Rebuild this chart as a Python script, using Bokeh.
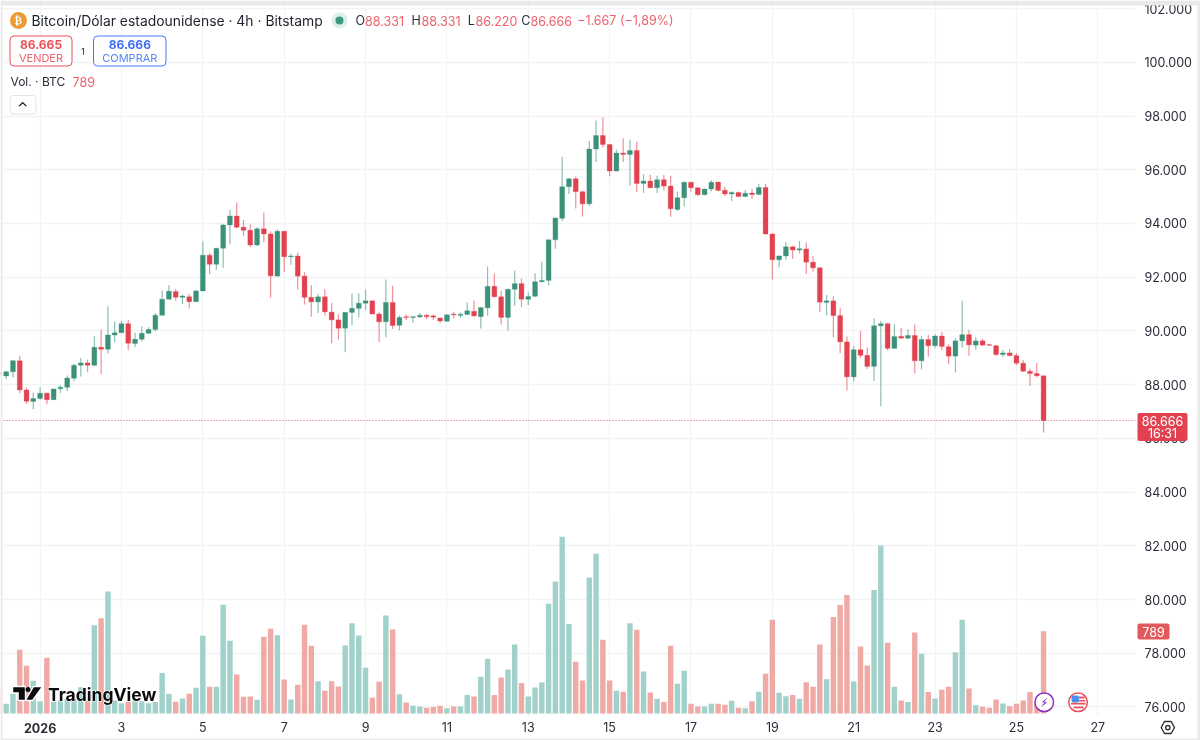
from bokeh.embed import file_html
from bokeh.resources import INLINE
from bokeh.layouts import column
from bokeh.plotting import figure
from bokeh.models import (ColumnDataSource, Range1d, Label, BoxAnnotation, PolyAnnotation, Span, FixedTicker)

opens = [88450,
88320,88480,88890,87800,87370,87480,87680,87440,87850,87900,
88240,88720,88810,88720,89390,89320,89850,89930,90270,89530,
89690,89910,90050,90580,91180,91470,91250,91270,91090,91490,
92820,92480,93080,93940,94280,93860,93750,93200,93800,93610,
92040,93710,92760,92790,92040,91250,91080,91270,90700,90410,
90100,90690,90840,91030,91120,90630,90340,91060,90210,90530,
90500,90520,90580,90560,90480,90360,90630,90580,90610,90730,
90530,90860,91660,91270,90500,91550,91760,91180,91290,91830,
91880,93390,94190,95370,95660,95180,94730,96770,97270,96940,
95950,96620,96570,96720,95490,95580,95330,95630,95390,94520,
94960,95530,95330,95070,95280,95540,95240,95100,95150,95000,
95130,95080,95340,93610,92650,92790,93130,93010,93050,92560,
92350,91060,91120,90570,89590,88290,89300,89090,88680,90190,
90270,89350,89800,89730,89830,88890,89680,89450,89810,89410,
89060,89630,89860,89470,89630,89490,89450,89120,89180,89080,
88800,88500,88410,88331]
highs = [88520,
88520,88920,89080,87900,87710,87900,87700,87850,87980,88340,
88770,88990,88940,89800,90050,90910,90350,90370,90410,89930,
90170,90150,90670,91500,91710,91560,91350,91380,91530,93330,
92910,93090,93990,94510,94780,94140,93960,93860,94410,93710,
93780,93720,92870,92910,92190,91700,91380,91550,91040,90620,
90700,91380,91400,91540,91130,90710,91910,91680,90580,90610,
90550,90680,90630,90610,90510,90610,90710,90680,91060,91130,
90880,92400,92140,91490,91570,92250,91950,91430,92160,92570,
93400,94210,96480,95680,95750,95230,97080,97830,97940,96970,
96740,97170,97120,97040,95830,95810,95780,95810,95780,95190,
95560,95550,95340,95290,95610,95550,95370,95200,95190,95250,
95290,95480,95480,93630,92810,93300,93170,93350,93290,92790,
92370,91340,91290,90860,89790,89450,90000,89380,90470,90370,
90300,90250,90110,90060,90240,89810,89860,89880,89960,89490,
89730,91120,90040,89760,89700,89520,89460,89290,89330,89170,
88920,88600,88810,88331]
lows = [88300,
88210,88270,87680,87280,87080,87450,87270,87430,87690,87760,
88140,88300,88460,88680,88390,89160,89580,89920,89280,89390,
89610,89890,89990,90570,91170,91130,90990,90830,91080,91480,
92110,92280,92350,93240,93820,93540,93120,93150,93300,91230,
92030,92200,92460,91530,90980,90530,90670,90560,89540,89680,
89210,90220,90500,90780,90620,89590,89760,90070,90010,90410,
90290,90480,90430,90410,90290,90340,90460,90480,90600,90530,
90090,90560,91250,90240,90010,90940,90880,90960,91250,91800,
91690,93060,94090,95100,94560,94260,94650,96290,96840,95760,
95940,96290,95400,95170,95130,95310,95130,95230,94250,94470,
94630,95190,95030,95050,95190,95200,95020,94840,94990,94990,
94910,95070,93580,91910,92360,92650,92680,92890,92120,92200,
90700,90580,89760,89170,87780,88120,88990,88580,88140,87190,
89270,89340,89710,89680,88420,88570,89040,89350,89290,88760,
88450,89370,89080,89300,89440,89450,89060,89030,89060,88720,
88470,87950,88270,86220]
closes = [88390,
88480,88890,87800,87380,87480,87680,87440,87840,87900,88250,
88720,88810,88720,89390,89320,89850,89930,90270,89540,89690,
89910,90050,90580,91180,91480,91250,91300,91090,91490,92820,
92480,93080,93940,94280,93860,93750,93200,93800,93610,92050,
93710,92760,92790,92040,91250,91080,91270,90710,90410,90100,
90690,90840,91030,91120,90630,90340,91060,90200,90500,90500,
90530,90580,90530,90510,90370,90600,90600,90620,90750,90560,
90870,91660,91270,90500,91550,91760,91180,91280,91830,91880,
93390,94200,95370,95660,95180,94730,96770,97270,96940,95950,
96620,96570,96720,95490,95580,95330,95630,95390,94550,94960,
95530,95330,95070,95280,95530,95230,95100,95150,95000,95120,
95080,95340,93610,92650,92790,93130,93010,93060,92560,92350,
91070,91120,90570,89590,88290,89300,89090,88680,90190,90270,
89350,89790,89730,89830,88890,89680,89450,89810,89420,89060,
89630,89860,89480,89630,89470,89465,89120,89180,89080,88800,
88500,88410,88331,86666]
volumes = [227,
93,189,610,457,313,118,534,109,125,141,
141,252,125,847,914,1170,125,99,109,118,
118,99,109,387,189,112,144,189,246,745,
256,256,1042,697,374,160,163,131,735,812,
751,326,134,275,850,649,310,217,310,259,
652,866,748,438,150,304,940,805,185,105,
74,67,54,61,74,51,67,67,176,163,
352,524,176,345,422,662,291,163,249,297,
1051,1266,1694,857,495,316,1304,1531,706,316,
217,208,866,802,403,201,141,109,649,284,
409,93,67,67,93,93,83,121,54,51,
118,208,380,898,198,166,176,141,300,256,
662,329,924,1039,1135,307,642,460,1183,1611,
678,256,125,109,777,572,205,144,227,256,
588,898,240,80,64,54,134,96,70,93,
125,205,93,789]

price_ticks = [76000,78000,80000,82000,84000,86000,88000,90000,92000,94000,96000,98000,100000,102000]
price_labels = ["76.000","78.000","80.000","82.000","84.000","86.000","88.000","90.000","92.000","94.000","96.000","98.000","100.000","102.000"]
date_ticks = [5,17,29,41,53,65,77,89,101,113,125,137,149,161]
date_labels = ["","3","5","7","9","11","13","15","17","19","21","23","25","27"]
title_text = "Bitcoin/Dólar estadounidense · 4h · Bitstamp"

GREEN, RED = "#3B917A", "#E2424F"
VGREEN, VRED = "#A0D2CB", "#EFAAA6"
INK = "#2A2E39"
TXTRED = "#EC626C"
FH = 740   # overlay frame height, px

idx = list(range(-1, len(opens) - 1))
up = [c >= o for o, c in zip(opens, closes)]
src = ColumnDataSource(dict(
    x=idx, o=opens, h=highs, l=lows, c=closes, v=volumes,
    top=[max(a, b) for a, b in zip(opens, closes)],
    bot=[min(a, b) for a, b in zip(opens, closes)],
    color=[GREEN if u else RED for u in up],
    vcolor=[VGREEN if u else VRED for u in up],
))

p = figure(width=1200, height=740, output_backend="svg", toolbar_location=None,
           x_range=Range1d(-0.84, 166.56), y_range=Range1d(75646, 102300),
           y_axis_location="right", min_border_left=0, min_border_top=0,
           min_border_right=65, min_border_bottom=24, background_fill_color="white",
           border_fill_color="white", outline_line_color=None, frame_align=False)
p.styles = {"position": "fixed", "left": "0px", "top": "0px"}
p.extra_y_ranges = {"vol": Range1d(-29, 6836)}

for ax, ticks, labels in ((p.yaxis[0], price_ticks, price_labels), (p.xaxis[0], date_ticks, date_labels)):
    ax.ticker = FixedTicker(ticks=ticks)
    ax.major_label_overrides = {t: l for t, l in zip(ticks, labels)}
    ax.axis_line_color = None
    ax.major_tick_line_color = None
    ax.minor_tick_line_color = None
    ax.major_label_text_font = "Inter"
    ax.major_label_text_font_size = "12.5px"
    ax.major_label_text_color = INK
p.yaxis[0].major_label_standoff = 3
p.xaxis[0].major_label_standoff = -1
p.xgrid[0].ticker = FixedTicker(ticks=date_ticks)
p.ygrid[0].ticker = FixedTicker(ticks=price_ticks)
for g in (p.xgrid[0], p.ygrid[0]):
    g.grid_line_color = "#F2F3F4"
    g.grid_line_width = 1.3

p.vbar(x="x", top="v", bottom=0, width=0.8, fill_color="vcolor", line_color=None, source=src, y_range_name="vol")
p.segment(x0="x", y0="l", x1="x", y1="h", color="color", line_width=1.2, line_alpha=0.58, source=src)
p.vbar(x="x", top="top", bottom="bot", width=0.72, fill_color="color", line_color="color", line_alpha=0.3, line_width=1, source=src)

p.add_layout(Span(location=closes[-1], dimension="width", line_color=RED, line_width=1, line_dash=[1, 2], line_alpha=0.9))

# transparent sheet on top of the chart, for everything that overlaps the axes
ov = figure(width=1200, height=740, output_backend="svg", toolbar_location=None,
            x_range=Range1d(0, 1200), y_range=Range1d(0, 740), min_border=0, x_axis_location=None, y_axis_location=None,
            background_fill_color=None, border_fill_color=None, outline_line_color=None, frame_align=False)
ov.grid.visible = False
ov.styles = {"position": "fixed", "left": "0px", "top": "0px"}


def box(l, t, r, b, fill=None, line=None, lw=1, radius=0):
    ov.add_layout(BoxAnnotation(left=l, right=r, top=FH - t, bottom=FH - b, left_units="screen", right_units="screen",
                                top_units="screen", bottom_units="screen", fill_color=fill, fill_alpha=1 if fill else 0,
                                line_color=line, line_width=lw, line_alpha=1 if line else 0,
                                border_radius=int(radius + 0.5), level="overlay"))


def poly(pts, fill=None, line=None, lw=1):
    ov.add_layout(PolyAnnotation(xs=[a for a, _ in pts], ys=[FH - b for _, b in pts], xs_units="screen", ys_units="screen",
                                 fill_color=fill, fill_alpha=1 if fill else 0, line_color=line, line_width=lw,
                                 line_alpha=1 if line else 0, level="overlay"))


def text(x, y, s, color=INK, size=12.5, align="left", font="Inter", style="normal", **kw):
    ov.add_layout(Label(x=x, y=FH - y, x_units="screen", y_units="screen", text=s, text_color=color,
                        text_font_size=f"{size}px", text_align=align, text_baseline="middle", text_font=font,
                        text_font_style=style, level="overlay", **kw))


# price tags
box(1137, 412.5, 1187, 440.5, fill="#E2424F", radius=2)
text(1162, 420, "86.666", color="white", align="center")
text(1162, 433, "16:31", color="white", align="center")
box(1137, 623, 1169, 639, fill="#E2595C", radius=2)
text(1153, 631, "789", color="white", align="center")

# header
box(9.5, 11.5, 26.5, 28.5, fill="#EE9A34", radius=8.5)
text(18, 20, "₿", color="white", size=11, align="center", font="DejaVu Sans", style="bold")
text(31, 20, title_text, color="#1E222D", size=13.9)
box(331, 12, 347, 28, fill="#DCEFEA", radius=8)
box(335, 16, 343, 24, fill="#3D9A80", radius=4)
for xx, s, c in [(355, "O", INK), (364.5, "88.331", TXTRED), (411, "H", INK), (421, "88.331", TXTRED),
                 (467.3, "L", INK), (475, "86.220", TXTRED), (520.7, "C", INK), (530, "86.666", TXTRED),
                 (576.7, "−1.667 (−1,89%)", TXTRED)]:
    text(xx, 20, s, color=c, size=12.5)

box(9.5, 35.5, 71.5, 65.5, fill="white", line="#E8505B", radius=4)
text(40.5, 44, "86.665", color="#E8505B", size=12, align="center", style="bold")
text(40.5, 57, "VENDER", color="#EC626C", size=11, align="center")
text(82.5, 50.5, "1", color=INK, size=9.5, align="center")
box(93, 35.5, 165.5, 65.5, fill="white", line="#4A78F0", radius=4)
text(129.3, 44, "86.666", color="#3F6FEF", size=12, align="center", style="bold")
text(129.3, 57, "COMPRAR", color="#5A84F0", size=11, align="center")
text(10, 81, "Vol. · BTC", color=INK, size=12)
text(72, 81, "789", color=TXTRED, size=12.5)
box(9.5, 95, 35.5, 113.5, fill="white", line="#E0E3EB", radius=3)
poly([(18.2, 105.2), (22.2, 101.3), (26.2, 105.2), (25.3, 106.1), (22.2, 103.1), (19.1, 106.1)], fill="#131722")

# logo
for pts in ([(12.7, 686.7), (24.3, 686.7), (24.3, 699.3), (18.3, 699.3), (18.3, 691.7), (12.7, 691.7)],
            [(33.3, 686.7), (40.7, 686.7), (31.7, 699.3), (26, 699.3)]):
    poly(pts, line="white", lw=3)
    poly(pts, fill="#0B0B0E")
box(25, 686.5, 30, 691.5, fill="#0B0B0E", radius=2.5)
text(47.5, 694.3, "TradingView", color="white", size=17.5, style="bold", text_outline_color="white")
text(47.5, 694.3, "TradingView", color="#0B0B0E", size=17.5, style="bold")

# bold year on the date axis
text(39.6, 727, "2026", color=INK, size=12.5, align="center", style="bold")

# event icons
box(1034.5, 692.5, 1053, 711, fill="white", line="#8E2FBF", lw=1.5, radius=9.2)
poly([(1047.5, 696.5), (1041.3, 701.7), (1044.1, 701.9), (1040, 707), (1046.6, 702), (1043.7, 701.6)], fill="#8E2FBF")
box(1068.3, 692.5, 1086.8, 711, fill="white", line="#E8505B", lw=1.5, radius=9.2)
box(1071, 695, 1078.5, 702, fill="#4A90F0", radius=1.5)
box(1078.5, 696, 1084, 698, fill="#E8505B")
box(1078.5, 699.5, 1085, 701, fill="#E8505B")
box(1070.5, 702.3, 1085, 704, fill="#E8505B")
box(1073, 706, 1083, 707.8, fill="#E8505B")

# settings icon
poly([(1160.7, 727), (1164, 721), (1170.7, 721), (1174, 727), (1170.7, 733), (1164, 733)], line="#2A2E39", lw=1.4)
box(1165.2, 725, 1169.4, 729.2, line="#2A2E39", lw=1.4, radius=2.1)

# window edges
box(0, 0, 1200, 5, fill="#E9E9EA")
box(0, 0, 2, 740, fill="#E9E9EA")
box(1197, 0, 1200, 740, fill="#E9E9EA")
box(0, 738, 1200, 740, fill="#E9E9EA")

open("out.html", "w").write(file_html(column(p, ov), INLINE))
